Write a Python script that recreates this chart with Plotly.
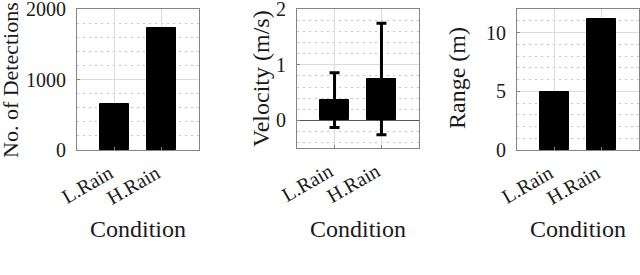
import plotly.graph_objects as go

categories = ["L.Rain", "H.Rain"]
cat_pos = [1, 2]
detections = [655, 1725]
velocity_mean = [0.365, 0.745]
velocity_std = [0.49, 1.0]
range_m = [4.97, 11.15]

W, H = 640, 275
FONT = "Liberation Serif"
TXT = "#1a1a1a"
TICK_SIZE = 20
LABEL_SIZE = 24

fig = go.Figure()

bar_style = dict(marker=dict(color="black", line=dict(color="black", width=1)), width=0.6, showlegend=False)

fig.add_trace(go.Bar(x=cat_pos, y=detections, xaxis="x", yaxis="y", **bar_style))
fig.add_trace(go.Bar(x=cat_pos, y=velocity_mean, xaxis="x2", yaxis="y2",
                     error_y=dict(type="data", array=velocity_std, color="black", thickness=3, width=5),
                     **bar_style))
fig.add_trace(go.Bar(x=cat_pos, y=range_m, xaxis="x3", yaxis="y3", **bar_style))

def px_x(a, b):
    return [a / W, b / W]

def px_y(top, bottom):
    return [1 - bottom / H, 1 - top / H]

xdoms = [px_x(77, 199), px_x(297, 419), px_x(517, 639)]
ydoms = [px_y(9, 150), px_y(9, 148.3), px_y(9, 150)]
yranges = [[0, 2000], [-0.5, 2], [0, 12]]
ydticks = [1000, 1, 5]
yminor = [200, 0.2, 1]

layout = dict(
    width=W, height=H,
    margin=dict(l=0, r=0, t=0, b=0, autoexpand=False),
    paper_bgcolor="white", plot_bgcolor="white",
    bargap=0, showlegend=False,
    font=dict(family="serif"),
)
for i in range(3):
    s = "" if i == 0 else str(i + 1)
    common_axis = dict(
        showline=True, mirror=True, linecolor="#858585", linewidth=1,
        ticks="inside", ticklen=3, tickcolor="#858585",
        tickfont=dict(family=FONT, size=TICK_SIZE, color=TXT),
        showgrid=True, gridcolor="#dcdcdc", gridwidth=1,
        ticklabeloverflow="allow", automargin=False,
    )
    layout["xaxis" + s] = dict(
        common_axis, domain=xdoms[i], anchor="y" + s, range=[0.2, 2.8],
        tickmode="array", tickvals=cat_pos, ticktext=categories, tickangle=-30,
        zeroline=False, ticklabelshift=-5, ticklabelstandoff=3,
    )
    layout["yaxis" + s] = dict(
        common_axis, domain=ydoms[i], anchor="x" + s, range=yranges[i],
        tick0=0, dtick=ydticks[i], ticklabelstandoff=6,
        zeroline=(i == 1), zerolinecolor="#555555", zerolinewidth=1,
        minor=dict(dtick=yminor[i], tick0=0, showgrid=True, gridcolor="#c4c4c4",
                   griddash="2px,4px", ticks=""),
    )
fig.update_layout(**layout)

ylabels = ["No. of Detections", "Velocity (m/s)", "Range (m)"]
ylabel_sizes = [22, LABEL_SIZE, LABEL_SIZE]
ylabel_x = [10, 261, 457]
ylabel_y = [80, 79, 78]
xlabel_x = [138, 358, 578]
annots = []
for i in range(3):
    annots.append(dict(text=ylabels[i], xref="paper", yref="paper",
                       x=ylabel_x[i] / W, y=1 - ylabel_y[i] / H, textangle=-90,
                       xanchor="center", yanchor="middle", showarrow=False,
                       font=dict(family=FONT, size=ylabel_sizes[i], color=TXT)))
    annots.append(dict(text="Condition", xref="paper", yref="paper",
                       x=xlabel_x[i] / W, y=1 - 229 / H,
                       xanchor="center", yanchor="middle", showarrow=False,
                       font=dict(family=FONT, size=LABEL_SIZE, color=TXT)))
fig.update_layout(annotations=annots)

fig.write_html("out.html", config={"displayModeBar": False},
               post_script="document.body.style.margin='0';document.body.style.overflow='hidden';")
